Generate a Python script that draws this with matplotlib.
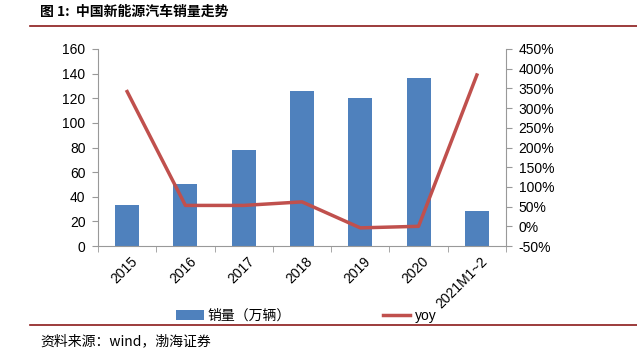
import matplotlib
matplotlib.use("Agg")
import matplotlib.pyplot as plt
from matplotlib.lines import Line2D
from matplotlib.patches import Patch
from matplotlib.ticker import FuncFormatter

plt.rcParams['font.family'] = ['Liberation Sans', 'Noto Sans CJK SC', 'DejaVu Sans']

categories = ['2015', '2016', '2017', '2018', '2019', '2020', '2021M1~2']
sales = [33, 50.7, 77.7, 125.6, 120.6, 136.7, 28.6]
yoy = [342, 53, 53, 62, -4, 0, 384]

bar_color = '#4F81BD'
line_color = '#C0504D'
axis_color = '#999999'

fig = plt.figure(figsize=(6.37, 3.57), dpi=100)
ax = fig.add_axes([98/637, 1-246/357, (506-98)/637, (246-49)/357])
x = list(range(len(categories)))
ax.bar(x, sales, width=0.41, color=bar_color, zorder=2)
ax.set_xlim(-0.5, len(categories)-0.5)
ax.set_ylim(0, 160)
ax.set_yticks(range(0, 161, 20))
ax.set_xticks(x)
ax.set_xticklabels(categories, rotation=45, ha='right', rotation_mode='anchor', fontsize=10)
ax.tick_params(axis='y', labelsize=10, length=4, color=axis_color, direction='out', pad=5)
ax.tick_params(axis='x', length=0, pad=6)
for t in ax.get_xticklabels():
    t.set_transform(t.get_transform() + matplotlib.transforms.ScaledTranslation(2.5/72, 0, fig.dpi_scale_trans))
# minor ticks at category boundaries
ax.set_xticks([i - 0.5 for i in range(len(categories)+1)], minor=True)
ax.tick_params(axis='x', which='minor', length=4, color=axis_color)
for s in ['top', 'right']:
    ax.spines[s].set_visible(False)
for s in ['left', 'bottom']:
    ax.spines[s].set_color(axis_color)

ax2 = ax.twinx()
ax2.plot(x, yoy, color=line_color, linewidth=2.5, zorder=3)
ax2.set_ylim(-50, 450)
ax2.set_yticks(range(-50, 451, 50))
ax2.yaxis.set_major_formatter(FuncFormatter(lambda v, p: f'{int(v)}%'))
ax2.tick_params(axis='y', labelsize=10, length=4, color=axis_color, direction='out', pad=5)
for s in ['top', 'left', 'bottom']:
    ax2.spines[s].set_visible(False)
ax2.spines['right'].set_color(axis_color)

handles = [Patch(facecolor=bar_color, edgecolor='none'), Line2D([0], [0], color=line_color, linewidth=2.5)]
fig.legend(handles, ['销量（万辆）', 'yoy'], loc='center', bbox_to_anchor=(306/637, 1-316/357), ncol=2,
           frameon=False, fontsize=10, columnspacing=6.6, handlelength=2.0, handletextpad=0.3)

fig.text(40/637, 1-12/357, '图 1:  中国新能源汽车销量走势', fontsize=10, fontweight='bold', va='center',
         family=['Noto Sans CJK SC', 'DejaVu Sans'])
fig.add_artist(Line2D([30/637, 1], [1-26/357, 1-26/357], color='#8B1A1A', linewidth=1.2))
fig.add_artist(Line2D([30/637, 1], [1-325/357, 1-325/357], color='#8B1A1A', linewidth=1.2))
fig.text(40/637, 1-341/357, '资料来源：wind，渤海证券', fontsize=10, style='italic', va='center',
         family=['Noto Sans CJK SC', 'DejaVu Sans'])

fig.savefig('out.png', dpi=100)
